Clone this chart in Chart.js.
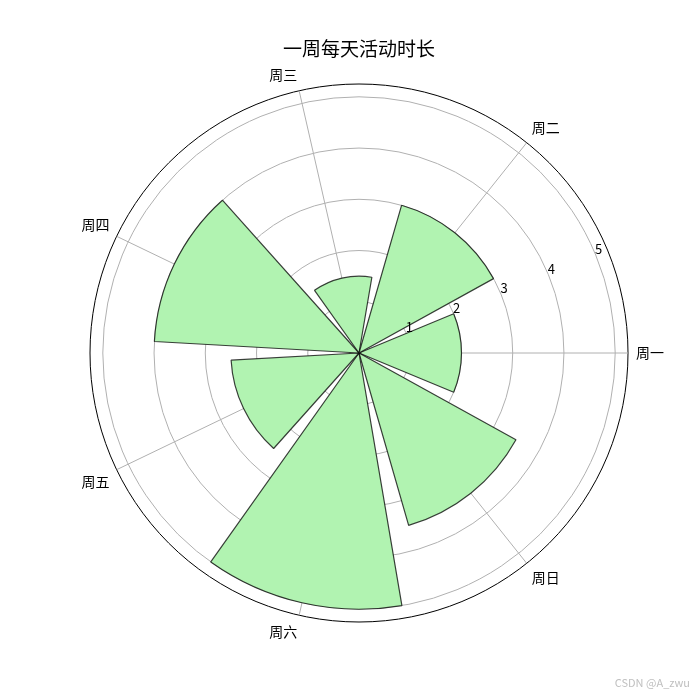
<!DOCTYPE html>
<html>
<head>
<meta charset="utf-8">
<title>一周每天活动时长</title>
<script src="https://cdn.jsdelivr.net/npm/chart.js@4"></script>
<style>
  html, body { margin: 0; padding: 0; background: #fff; }
  #wrap { width: 700px; height: 700px; position: relative; }
</style>
</head>
<body>
<div id="wrap"><canvas id="activityPolar"></canvas></div>
<script>
// 数据：周一 ~ 周日（逆时针，从正东开始）
const days = ['周一', '周二', '周三', '周四', '周五', '周六', '周日'];
const hours = [2, 3, 1.5, 4, 2.5, 5, 3.5];
const rTicks = [1, 2, 3, 4, 5];
const rMax = 5.25;

const FONT = '"Noto Sans CJK SC", "DejaVu Sans", sans-serif';
const GRID = '#b0b0b0';
const barWidthDeg = 45;
const slotDeg = 360 / days.length;
const gapDeg = slotDeg - barWidthDeg;

// Chart.js 顺时针绘制，所以倒过来排：周一、周日、周六 ...
const cwOrder = [0, 6, 5, 4, 3, 2, 1];

// 14 个刻度方向：奇数位是真正的类别，偶数位只是占位（不画线、不写字）
const spokeLabels = [];
cwOrder.forEach(i => { spokeLabels.push(''); spokeLabels.push(days[i]); });
const WEST_SLOT = 8; // 正西方向的空占位，用来平衡右侧“周一”的宽度

// 扇形：半个间隔 + (柱 + 间隔) ... + 半个间隔
const arcValues = [0];
const arcAngles = [gapDeg / 2];
cwOrder.forEach((i, k) => {
    arcValues.push(hours[i]);
    arcAngles.push(barWidthDeg);
    arcValues.push(0);
    arcAngles.push(k === cwOrder.length - 1 ? gapDeg / 2 : gapDeg);
});
const arcBorders = arcValues.map((v, i) => (i % 2 ? 1.2 : 0));

// 半径刻度文字放在 22.5° 方向（和 matplotlib 默认一样），文字保持水平
const tickLabelPlugin = {
    id: 'tickLabels',
    afterDraw(chart) {
        const scale = chart.scales.r;
        const ctx = chart.ctx;
        const ang = 22.5 * Math.PI / 180;
        ctx.save();
        ctx.font = '13px ' + FONT;
        ctx.fillStyle = '#000';
        ctx.textAlign = 'center';
        ctx.textBaseline = 'middle';
        rTicks.forEach(v => {
            const d = scale.getDistanceFromCenterForValue(v);
            ctx.fillText(String(v), scale.xCenter + d * Math.cos(ang) + 3, scale.yCenter - d * Math.sin(ang) - 6);
        });
        ctx.font = '11px ' + FONT;
        ctx.fillStyle = '#c0c0c0';
        ctx.textAlign = 'right';
        ctx.fillText('CSDN @A_zwu', 690, 683);
        ctx.restore();
    }
};

new Chart(document.getElementById('activityPolar'), {
    type: 'polarArea',
    data: {
        labels: spokeLabels,
        datasets: [{
            data: arcValues,
            angle: arcAngles,
            backgroundColor: '#b1f3b1',
            borderColor: 'rgba(0, 0, 0, 0.75)',
            borderWidth: arcBorders
        }]
    },
    options: {
        responsive: true,
        maintainAspectRatio: false,
        animation: false,
        layout: { padding: { left: 54, right: 36, top: 0, bottom: 42 } },
        plugins: {
            legend: { display: false },
            tooltip: { enabled: false },
            title: {
                display: true,
                text: '一周每天活动时长',
                color: '#000',
                font: { family: FONT, size: 19, weight: 'normal' },
                padding: { top: 37, bottom: -11.8 }
            }
        },
        scales: {
            r: {
                min: 0,
                max: rMax,
                startAngle: 90 - slotDeg / 2,
                afterBuildTicks: s => { s.ticks = [0, ...rTicks, rMax].map(v => ({ value: v })); },
                ticks: { display: false, z: 1 },
                grid: {
                    circular: true,
                    color: c => (c.tick && c.tick.value === rMax ? '#000' : GRID),
                    lineWidth: 1
                },
                angleLines: {
                    display: true,
                    color: GRID,
                    lineWidth: c => (c.index % 2 ? 1 : 0)
                },
                pointLabels: {
                    display: true,
                    padding: c => (c.index === WEST_SLOT ? 36 : 8),
                    color: '#000',
                    font: { family: FONT, size: 14 }
                }
            }
        }
    },
    plugins: [tickLabelPlugin]
});
</script>
</body>
</html>
